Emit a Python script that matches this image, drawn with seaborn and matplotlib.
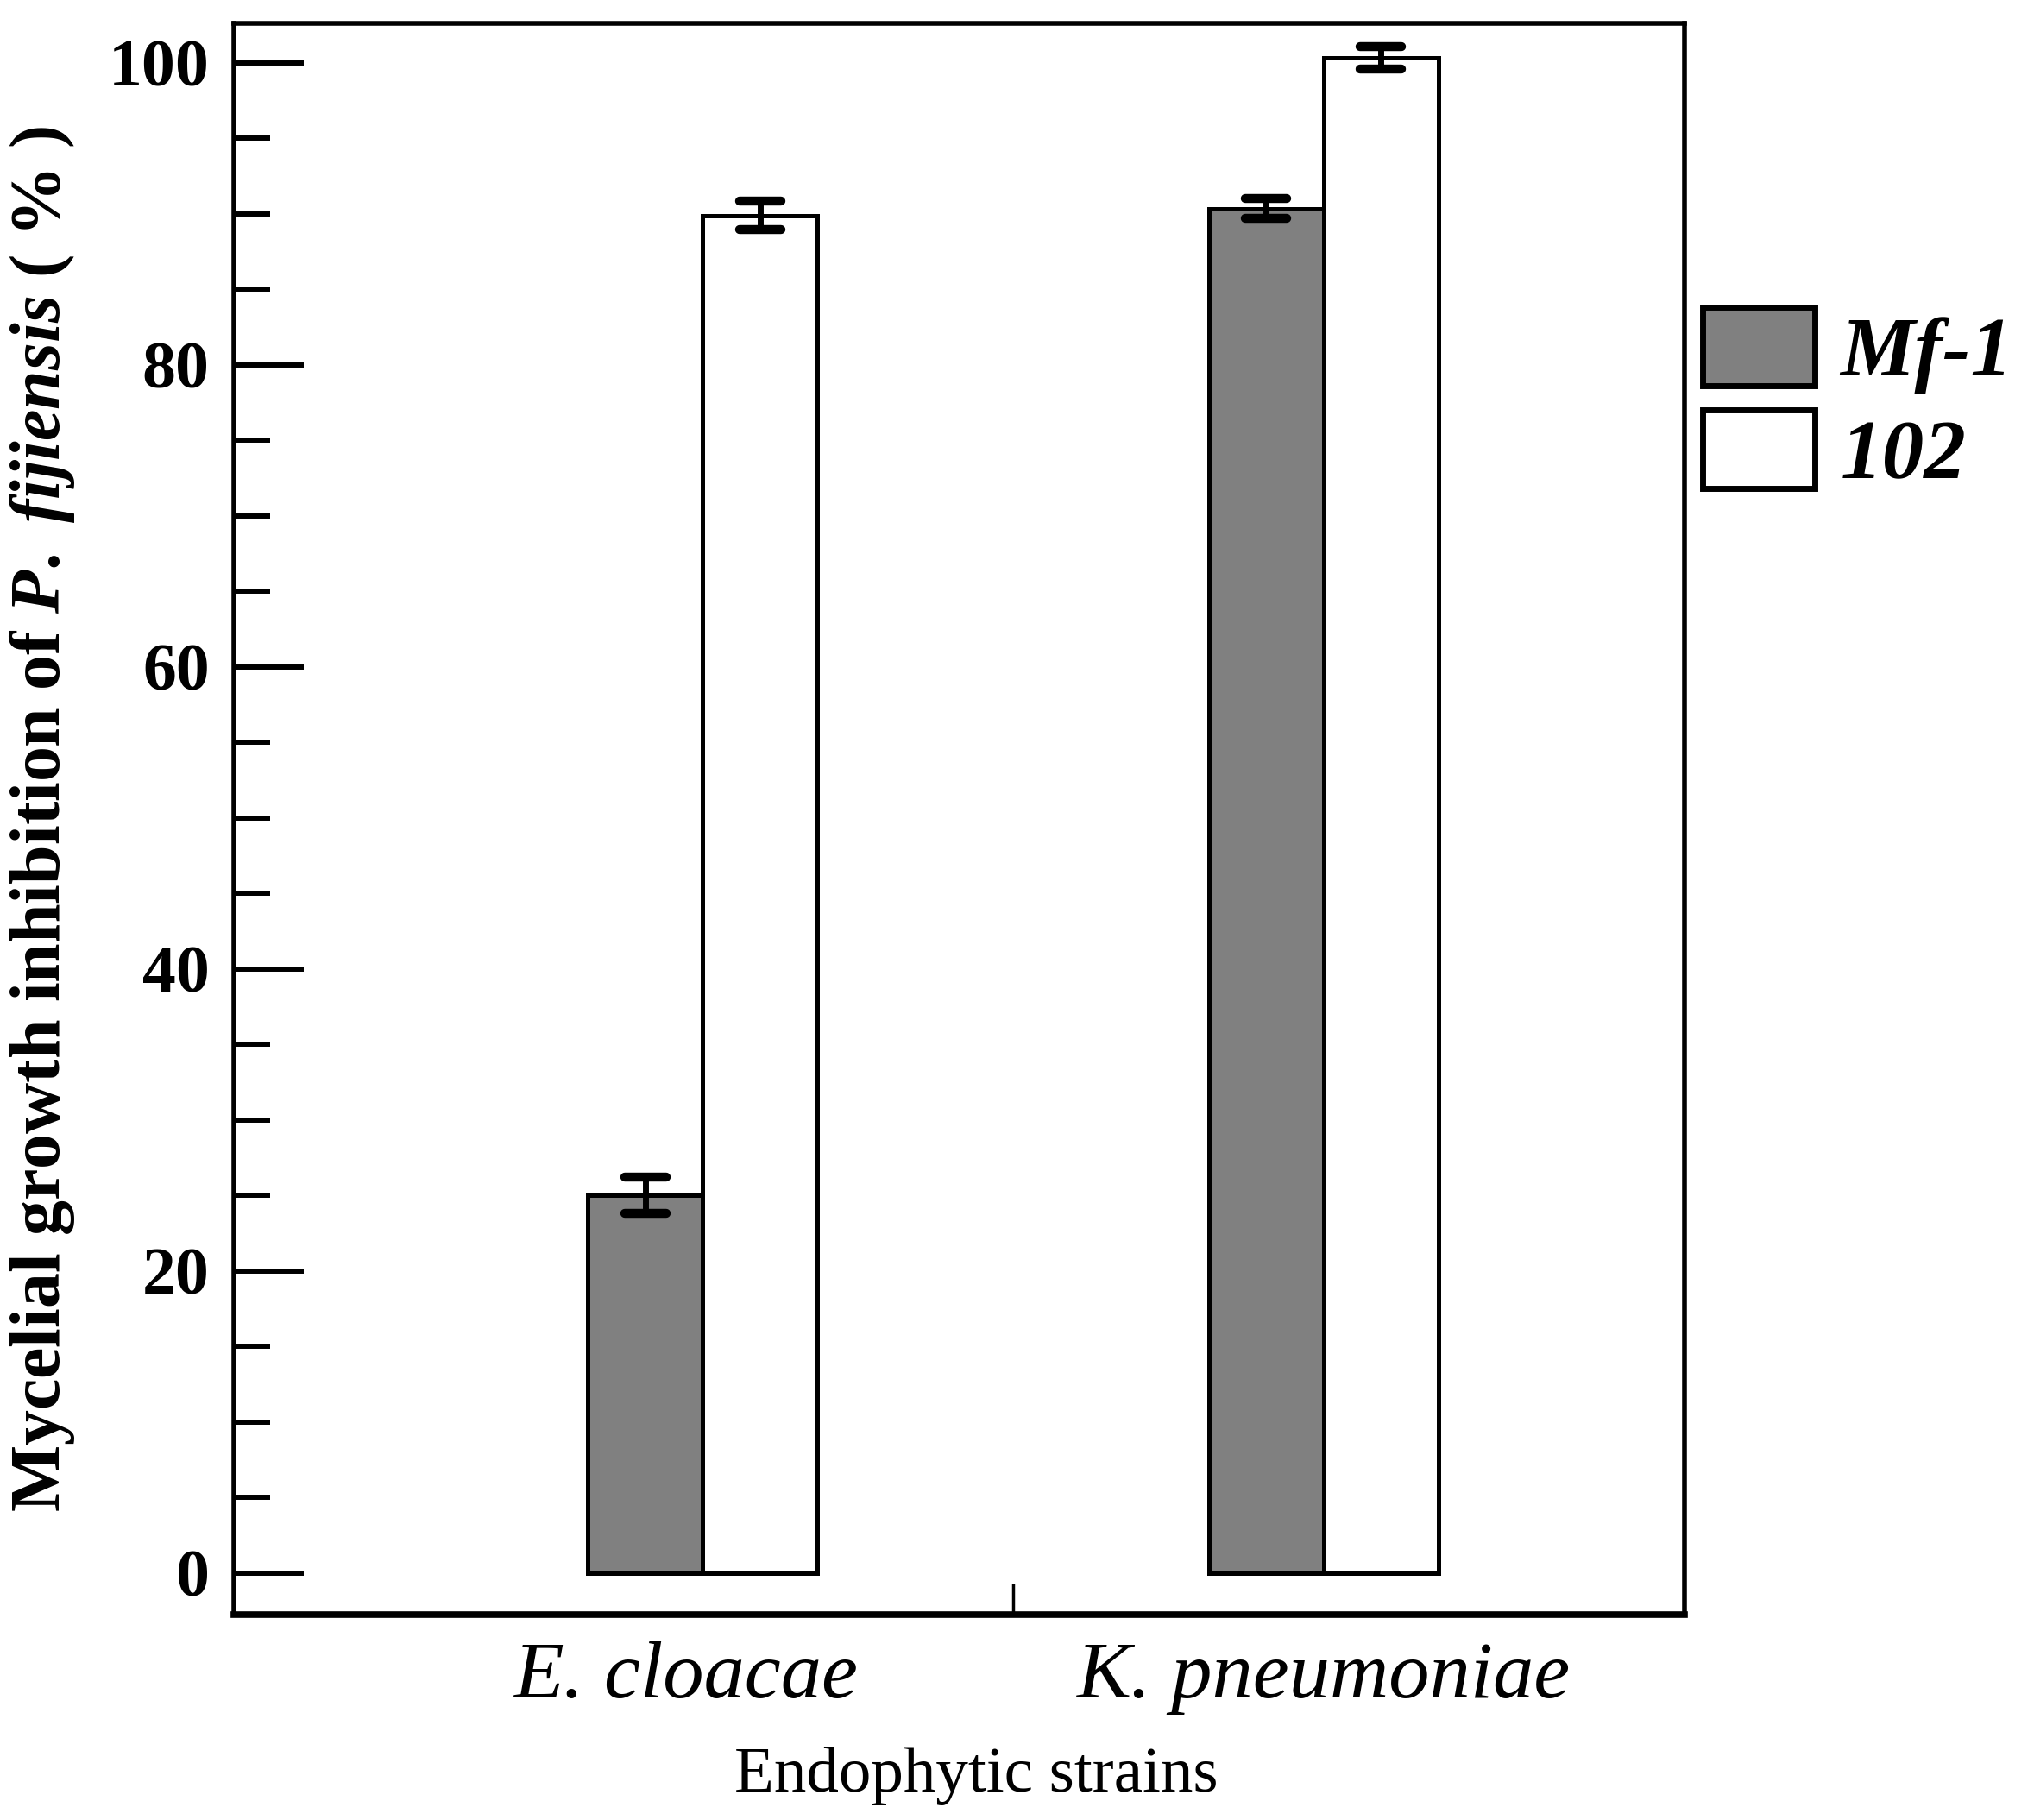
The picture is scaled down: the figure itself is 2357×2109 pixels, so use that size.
import numpy as np
import pandas as pd
import matplotlib
matplotlib.use("Agg")
import matplotlib.pyplot as plt
from matplotlib.ticker import MultipleLocator, FixedLocator
from matplotlib.markers import MarkerStyle
import matplotlib.transforms as mtransforms
import seaborn as sns

# ---- data ----
strains = ["E. cloacae", "K. pneumoniae"]
isolates = ["Mf-1", "102"]
mf1_values = [25.0, 90.35]
i102_values = [89.9, 100.35]
mf1_err = [1.2, 0.65]
i102_err = [0.95, 0.75]
bar_colors = {"Mf-1": "#808080", "102": "#ffffff"}
y_ticks = [0, 20, 40, 60, 80, 100]

df = pd.DataFrame({
    "strain": strains * 2,
    "isolate": [isolates[0]] * 2 + [isolates[1]] * 2,
    "value": mf1_values + i102_values,
})
errs = {"Mf-1": mf1_err, "102": i102_err}

sns.set_theme(style="white")
plt.rcParams["font.family"] = ["Liberation Serif", "DejaVu Serif"]
plt.rcParams["mathtext.fontset"] = "custom"
plt.rcParams["mathtext.rm"] = "Liberation Serif:bold"
plt.rcParams["mathtext.it"] = "Liberation Serif:italic:bold"
plt.rcParams["mathtext.bf"] = "Liberation Serif:bold"
for k in ["text.color", "axes.labelcolor", "xtick.color", "ytick.color", "axes.edgecolor"]:
    plt.rcParams[k] = "black"

fig = plt.figure(figsize=(23.57, 21.09), dpi=100)
ax = fig.add_axes([0.1148, 0.1128, 0.828 - 0.1148, 0.987 - 0.1128])

sns.barplot(data=df, x="strain", y="value", hue="isolate", order=strains,
            hue_order=isolates, palette=bar_colors, edgecolor="black",
            linewidth=3.6, width=0.37, errorbar=None, saturation=1, ax=ax)

for cont, iso in zip(ax.containers, isolates):
    xs = [b.get_x() + b.get_width() / 2 for b in cont]
    ys = [b.get_height() for b in cont]
    el = ax.errorbar(xs, ys, yerr=errs[iso], fmt="none", ecolor="black",
                     elinewidth=5, capsize=17, capthick=7.5, zorder=5)
    for cap in el[1]:
        cap.set_marker(MarkerStyle("_", capstyle="round"))

ax.set_xlim(-0.756, 1.581)
ax.set_ylim(-2.77, 102.6)

# spines
for s in ["left", "right", "top"]:
    ax.spines[s].set_linewidth(4)
    ax.spines[s].set_color("black")
ax.spines["bottom"].set_linewidth(5.5)
ax.spines["bottom"].set_color("black")

# y ticks
ax.yaxis.set_major_locator(FixedLocator(y_ticks))
ax.yaxis.set_minor_locator(MultipleLocator(5))
ax.tick_params(axis="y", which="major", direction="in", length=58, width=4.3,
               color="black", pad=20, labelsize=56, left=True, right=False)
ax.tick_params(axis="y", which="minor", direction="in", length=30, width=4.3,
               color="black", left=True, right=False)
for lbl in ax.get_yticklabels():
    lbl.set_fontweight("bold")

# x ticks
ax.xaxis.set_minor_locator(FixedLocator([0.5]))
ax.tick_params(axis="x", which="major", length=0, pad=22, labelsize=68)
ax.tick_params(axis="x", which="minor", direction="in", length=26, width=2.5,
               color="black", bottom=True)
xlabels = ax.get_xticklabels()
for lbl in xlabels:
    lbl.set_fontstyle("italic")
xlabels[0].set_transform(xlabels[0].get_transform() +
                         mtransforms.ScaledTranslation(-0.2, 0, fig.dpi_scale_trans))

ax.set_xlabel("Endophytic strains", fontsize=54)
ax.xaxis.set_label_coords(0.512, -0.083)
ylab = ax.set_ylabel(r"Mycelial growth inhibition of $\mathit{P.\ fijiensis}$ ( % )",
                     fontsize=58, fontweight="bold")
ax.yaxis.set_label_coords(-0.108, 0.5)

# fit the y-label length to the reference (about 1604 px)
fig.canvas.draw()
h = ylab.get_window_extent().height
ylab.set_fontsize(58 * 1604.0 / h)

# legend
if ax.legend_ is not None:
    ax.legend_.remove()
handles = [plt.Rectangle((0, 0), 1, 1, facecolor=bar_colors[k], edgecolor="black",
                         linewidth=5) for k in isolates]
leg = fig.legend(handles, isolates, loc="upper left",
                 bbox_to_anchor=(0.837, 0.831), frameon=False, borderpad=0,
                 borderaxespad=0, handlelength=1.34, handleheight=1.06,
                 handletextpad=0.3, labelspacing=0.2,
                 prop={"family": "Liberation Serif", "style": "italic",
                       "weight": "bold", "size": 70})

fig.savefig("out.png", dpi=100, facecolor="white")
